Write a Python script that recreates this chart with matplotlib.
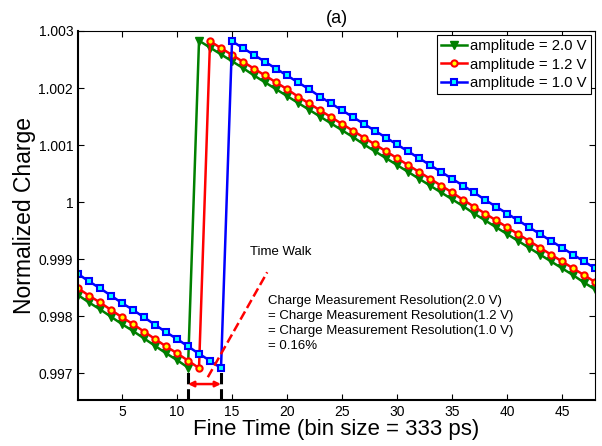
import numpy as np
import matplotlib
matplotlib.use("Agg")
import matplotlib.pyplot as plt

plt.rcParams['font.family'] = ['Liberation Sans', 'DejaVu Sans']

fine_time = list(range(1, 49))

# amplitude = 2.0 V
charge_20 = [0.99837, 0.99824, 0.99812, 0.99799, 0.99786, 0.99774, 0.99761, 0.99748,
             0.99735, 0.99723, 0.99710,
             1.00283, 1.00271, 1.00259, 1.00247, 1.00235, 1.00222, 1.00210, 1.00198,
             1.00186, 1.00174, 1.00162, 1.00150, 1.00138, 1.00126, 1.00114, 1.00101,
             1.00089, 1.00077, 1.00065, 1.00053, 1.00041, 1.00029, 1.00017, 1.00005,
             0.99993, 0.99980, 0.99968, 0.99956, 0.99944, 0.99932, 0.99920, 0.99908,
             0.99896, 0.99884, 0.99872, 0.99859, 0.99847]
# amplitude = 1.2 V
charge_12 = [0.99849, 0.99836, 0.99824, 0.99811, 0.99798, 0.99786, 0.99773, 0.99760,
             0.99747, 0.99735, 0.99722, 0.99709,
             1.00282, 1.00270, 1.00258, 1.00246, 1.00234, 1.00222, 1.00210, 1.00198,
             1.00185, 1.00173, 1.00161, 1.00149, 1.00137, 1.00125, 1.00113, 1.00101,
             1.00089, 1.00077, 1.00065, 1.00053, 1.00041, 1.00029, 1.00017, 1.00004,
             0.99992, 0.99980, 0.99968, 0.99956, 0.99944, 0.99932, 0.99920, 0.99908,
             0.99896, 0.99884, 0.99872, 0.99860]
# amplitude = 1.0 V
charge_10 = [0.99874, 0.99861, 0.99849, 0.99836, 0.99823, 0.99811, 0.99798, 0.99785,
             0.99772, 0.99760, 0.99747, 0.99734, 0.99722, 0.99709,
             1.00282, 1.00270, 1.00258, 1.00246, 1.00234, 1.00222, 1.00210, 1.00198,
             1.00185, 1.00173, 1.00161, 1.00149, 1.00137, 1.00125, 1.00113, 1.00101,
             1.00089, 1.00077, 1.00065, 1.00053, 1.00041, 1.00029, 1.00017, 1.00004,
             0.99992, 0.99980, 0.99968, 0.99956, 0.99944, 0.99932, 0.99920, 0.99908,
             0.99896, 0.99884]

xticks = [5, 10, 15, 20, 25, 30, 35, 40, 45]
yticks = [0.997, 0.998, 0.999, 1.0, 1.001, 1.002, 1.003]
ytick_labels = ['0.997', '0.998', '0.999', '1', '1.001', '1.002', '1.003']

walk_start = 11
walk_end = 14
walk_min = 0.99709

fig = plt.figure(figsize=(6.02, 4.46), dpi=100)
ax = fig.add_axes([0.1296, 0.1031, 0.8588, 0.8274])

ax.plot(fine_time, charge_20, color='green', lw=1.8, marker='v', ms=5.5,
        mfc='green', mec='green', label='amplitude = 2.0 V')
ax.plot(fine_time, charge_12, color='red', lw=1.8, marker='o', ms=4.5,
        mfc='yellow', mec='red', mew=1.5, label='amplitude = 1.2 V')
ax.plot(fine_time, charge_10, color='blue', lw=1.8, marker='s', ms=4.5,
        mfc='cyan', mec='blue', mew=1.5, label='amplitude = 1.0 V')

# time walk markers
ymin = 0.99653
ax.plot([walk_start, walk_start], [ymin, walk_min], 'k--', lw=2.2)
ax.plot([walk_end, walk_end], [ymin, walk_min], 'k--', lw=2.2)
ax.annotate('', xy=(walk_start, 0.99681), xytext=(walk_end, 0.99681),
            arrowprops=dict(arrowstyle='<|-|>', color='red', lw=1.8,
                            mutation_scale=8, shrinkA=0, shrinkB=0))
ax.plot([12.8, 18.2], [0.99693, 0.99877], 'r--', lw=1.8)
ax.text(16.6, 0.99912, 'Time Walk', fontsize=9.5, va='center')
ax.text(18.3, 0.99838,
        'Charge Measurement Resolution(2.0 V)\n'
        '= Charge Measurement Resolution(1.2 V)\n'
        '= Charge Measurement Resolution(1.0 V)\n'
        '= 0.16%',
        fontsize=9.5, va='top', linespacing=1.35)

ax.set_xlim(1, 48)
ax.set_ylim(ymin, 1.003)
ax.set_xticks(xticks)
ax.set_yticks(yticks)
ax.set_yticklabels(ytick_labels)
ax.tick_params(direction='in', top=True, right=True, labelsize=10, length=4)
for side in ['left', 'bottom']:
    ax.spines[side].set_linewidth(1.5)
for side in ['top', 'right']:
    ax.spines[side].set_linewidth(0.8)
ax.set_xlabel('Fine Time (bin size = 333 ps)', fontsize=16, labelpad=0)
ax.set_ylabel('Normalized Charge', fontsize=16.5, labelpad=2)
ax.set_title('(a)', fontsize=13, pad=6)

leg = ax.legend(loc='upper right', fontsize=10.7, fancybox=False, framealpha=1,
                edgecolor='black', handlelength=1.8, handletextpad=0.2,
                borderpad=0.25, labelspacing=0.3, borderaxespad=0.3)
leg.get_frame().set_linewidth(0.8)

fig.savefig('out.png', dpi=100)
